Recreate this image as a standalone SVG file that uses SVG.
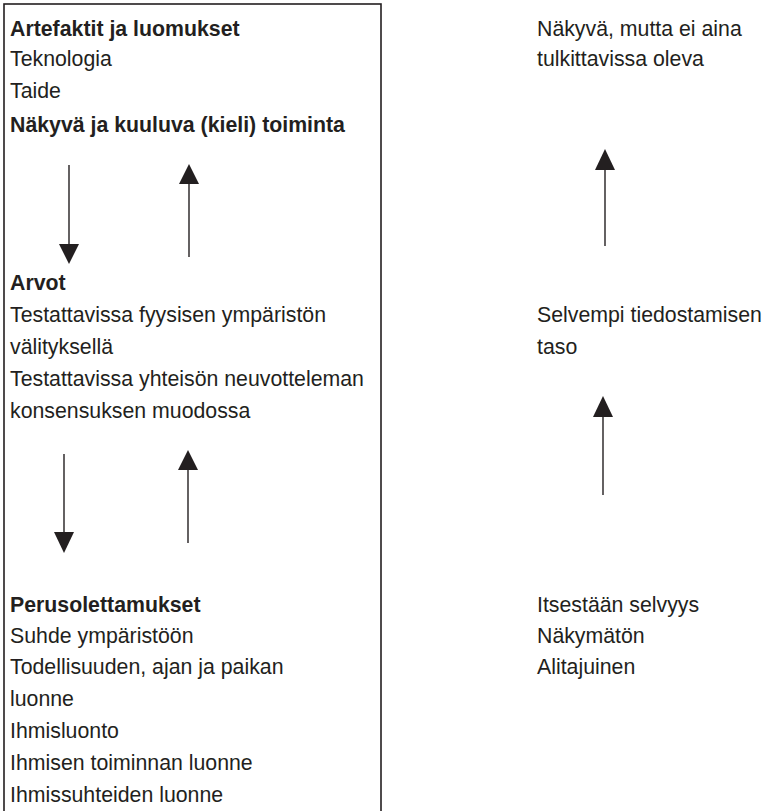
<svg xmlns="http://www.w3.org/2000/svg" width="767" height="811" viewBox="0 0 767 811">
  <style>
    text { font-family: "Liberation Sans", Arial, sans-serif; font-size: 21.3px; fill: #231f20; }
    .b { font-weight: bold; }
    .frame { fill: none; stroke: #231f20; stroke-width: 1.6; }
    .shaft { stroke: #231f20; stroke-width: 1.4; fill: none; }
    .head { fill: #231f20; }
  </style>
  <rect width="767" height="811" fill="#ffffff"/>

  <!-- left frame, open at the bottom edge -->
  <rect class="frame" x="4" y="4" width="377" height="812"/>

  <g id="artefaktit">
    <text class="b" x="10" y="36">Artefaktit ja luomukset</text>
    <text x="10" y="66">Teknologia</text>
    <text x="10" y="98">Taide</text>
    <text class="b" x="10" y="132">Näkyvä ja kuuluva (kieli) toiminta</text>
  </g>

  <g id="arvot">
    <text class="b" x="10" y="290">Arvot</text>
    <text x="10" y="322">Testattavissa fyysisen ympäristön</text>
    <text x="10" y="354">välityksellä</text>
    <text x="10" y="386">Testattavissa yhteisön neuvotteleman</text>
    <text x="10" y="418">konsensuksen muodossa</text>
  </g>

  <g id="perusolettamukset">
    <text class="b" x="10" y="612">Perusolettamukset</text>
    <text x="10" y="643">Suhde ympäristöön</text>
    <text x="10" y="674">Todellisuuden, ajan ja paikan</text>
    <text x="10" y="706">luonne</text>
    <text x="10" y="738">Ihmisluonto</text>
    <text x="10" y="770">Ihmisen toiminnan luonne</text>
    <text x="10" y="802">Ihmissuhteiden luonne</text>
  </g>

  <g id="nakyva">
    <text x="537" y="36">Näkyvä, mutta ei aina</text>
    <text x="537" y="66">tulkittavissa oleva</text>
  </g>

  <g id="selvempi">
    <text x="537" y="322">Selvempi tiedostamisen</text>
    <text x="537" y="354">taso</text>
  </g>

  <g id="itsestaan">
    <text x="537" y="612">Itsestään selvyys</text>
    <text x="537" y="643">Näkymätön</text>
    <text x="537" y="674">Alitajuinen</text>
  </g>

  <g id="connectors">
    <!-- artefacts to values -->
    <line class="shaft" x1="69" y1="165" x2="69" y2="246"/>
    <polygon class="head" points="59,244 79,244 69,264"/>
    <line class="shaft" x1="189" y1="182" x2="189" y2="257"/>
    <polygon class="head" points="179,184 199,184 189,164"/>

    <!-- values to assumptions -->
    <line class="shaft" x1="64" y1="454" x2="64" y2="534"/>
    <polygon class="head" points="54,532 74,532 64,553"/>
    <line class="shaft" x1="188" y1="468" x2="188" y2="543"/>
    <polygon class="head" points="178,470 198,470 188,450"/>

    <!-- awareness scale -->
    <line class="shaft" x1="605" y1="168" x2="605" y2="246"/>
    <polygon class="head" points="595,170 615,170 605,149"/>
    <line class="shaft" x1="603" y1="415" x2="603" y2="495"/>
    <polygon class="head" points="593,417 613,417 603,396"/>
  </g>
</svg>
